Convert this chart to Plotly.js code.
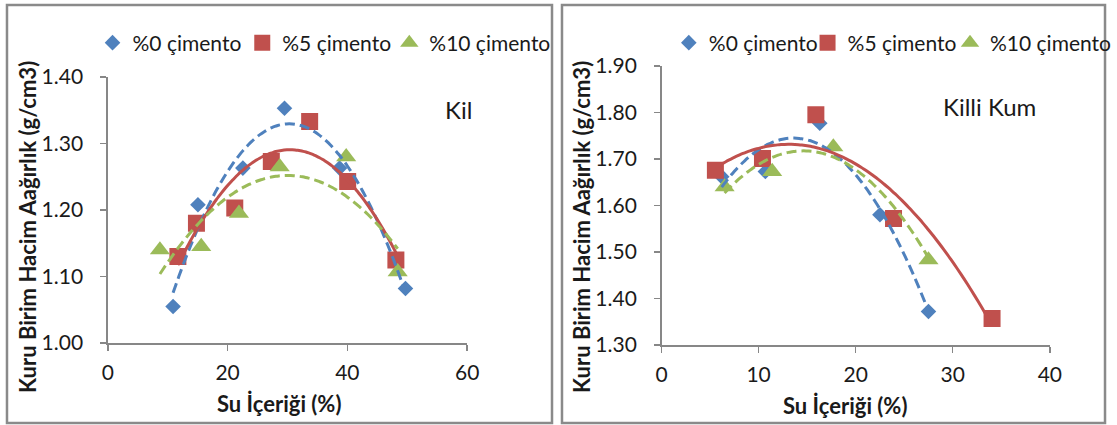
<!DOCTYPE html>
<html>
<head>
<meta charset="utf-8">
<script src="https://cdn.plot.ly/plotly-3.0.1.min.js"></script>
<style>
html,body{margin:0;padding:0;background:#fff;}
#chart{width:1117px;height:425px;}
</style>
</head>
<body>
<div id="chart"></div>
<script>
// ---- Data: Kil (clay) ----
const kilX0  = [10.9, 15.05, 22.55, 29.5, 38.7, 49.7];
const kilY0  = [1.055, 1.208, 1.263, 1.353, 1.263, 1.082];
const kilX5  = [11.7, 14.8, 21.2, 27.3, 33.7, 40.05, 48.1];
const kilY5  = [1.130, 1.180, 1.203, 1.273, 1.333, 1.243, 1.125];
const kilX10 = [8.7, 15.6, 21.9, 28.7, 39.8, 48.4];
const kilY10 = [1.140, 1.145, 1.195, 1.265, 1.280, 1.107];

// ---- Data: Killi Kum (clayey sand) ----
const kkX0  = [6.2, 10.7, 16.3, 22.5, 27.5];
const kkY0  = [1.662, 1.673, 1.777, 1.580, 1.372];
const kkX5  = [5.55, 10.4, 15.9, 23.9, 34.05];
const kkY5  = [1.676, 1.701, 1.795, 1.572, 1.357];
const kkX10 = [6.5, 11.4, 17.7, 27.5];
const kkY10 = [1.640, 1.673, 1.726, 1.483];

const seriesNames = ['%0 çimento', '%5 çimento', '%10 çimento'];
const xTitle = 'Su İçeriği (%)';
const yTitle = 'Kuru Birim Hacim Aağırlık (g/cm3)';
const panelLabels = ['Kil', 'Killi Kum'];

// ---- Styles ----
const BLUE = '#4F81BD', RED = '#C0504D', GREEN = '#9BBB59';
const FONT = 'Lato, "Open Sans", sans-serif';
const TXT = '#1a1a1a';
const AX = '#878787';
const W = 1117, H = 425;

// Least-squares polynomial trendline (as Excel's polynomial trendline, order 2)
function polyfit(xs, ys, order) {
  const n = order + 1;
  const A = [];
  for (let i = 0; i < n; i++) {
    A.push(new Array(n + 1).fill(0));
  }
  for (let k = 0; k < xs.length; k++) {
    for (let i = 0; i < n; i++) {
      for (let j = 0; j < n; j++) A[i][j] += Math.pow(xs[k], i + j);
      A[i][n] += ys[k] * Math.pow(xs[k], i);
    }
  }
  for (let i = 0; i < n; i++) {
    let p = i;
    for (let r = i + 1; r < n; r++) if (Math.abs(A[r][i]) > Math.abs(A[p][i])) p = r;
    [A[i], A[p]] = [A[p], A[i]];
    for (let r = 0; r < n; r++) {
      if (r === i) continue;
      const f = A[r][i] / A[i][i];
      for (let c = i; c <= n; c++) A[r][c] -= f * A[i][c];
    }
  }
  return A.map((row, i) => row[n] / row[i]);
}
function trend(xs, ys, order) {
  const c = polyfit(xs, ys, order);
  const lo = Math.min(...xs), hi = Math.max(...xs);
  const tx = [], ty = [];
  const N = 80;
  for (let i = 0; i <= N; i++) {
    const x = lo + (hi - lo) * i / N;
    let y = 0;
    for (let k = 0; k < c.length; k++) y += c[k] * Math.pow(x, k);
    tx.push(x); ty.push(y);
  }
  return {x: tx, y: ty};
}

const symbols = ['diamond', 'square', 'triangle-up'];
const sizes = [12, 17, 17.5];
const colors = [BLUE, RED, GREEN];
const dashes = ['10px,5px', 'solid', '10px,5px'];

// one legend per entry so each entry can be placed where the reference shows it
function panel(xsList, ysList, xa, ya, legendIds) {
  const out = [];
  for (let s = 0; s < 3; s++) {
    out.push({
      type: 'scatter', mode: 'markers', name: seriesNames[s],
      x: xsList[s], y: ysList[s], xaxis: xa, yaxis: ya, legend: legendIds[s],
      marker: {symbol: symbols[s], size: sizes[s], color: colors[s], line: {width: 0}},
      hoverinfo: 'x+y'
    });
  }
  for (let s = 0; s < 3; s++) {
    const t = trend(xsList[s], ysList[s], 2);
    out.push({
      type: 'scatter', mode: 'lines', showlegend: false,
      x: t.x, y: t.y, xaxis: xa, yaxis: ya,
      line: {color: colors[s], width: 3, dash: dashes[s], shape: 'spline'},
      hoverinfo: 'skip'
    });
  }
  return out;
}

const traces = [].concat(
  panel([kilX0, kilX5, kilX10], [kilY0, kilY5, kilY10], 'x', 'y', ['legend', 'legend2', 'legend3']),
  panel([kkX0, kkX5, kkX10], [kkY0, kkY5, kkY10], 'x2', 'y2', ['legend4', 'legend5', 'legend6'])
);

function axisBase() {
  return {
    showline: true, linecolor: AX, linewidth: 1.5,
    ticks: 'outside', ticklen: 6, tickwidth: 1.5, tickcolor: AX,
    showgrid: false, zeroline: false,
    tickfont: {family: FONT, size: 21, color: TXT},
    fixedrange: true
  };
}
const px = v => v / W, py = v => 1 - v / H;

function legendAt(markerX) {
  return {
    orientation: 'h', x: px(markerX - 18), y: py(43), xanchor: 'left', yanchor: 'middle',
    font: {family: FONT, size: 21, color: TXT}, bgcolor: 'rgba(0,0,0,0)', itemwidth: 30
  };
}

const layout = {
  width: W, height: H,
  margin: {l: 0, r: 0, t: 0, b: 0},
  paper_bgcolor: '#fff', plot_bgcolor: '#fff',
  font: {family: FONT, color: TXT},
  xaxis: Object.assign(axisBase(), {domain: [px(108), px(468)], range: [0, 60], dtick: 20, tick0: 0, anchor: 'y', ticklabelstandoff: 4}),
  yaxis: Object.assign(axisBase(), {domain: [py(343), py(77)], range: [1.0, 1.4], dtick: 0.1, tick0: 1.0, tickformat: '.2f', anchor: 'x', ticklabelstandoff: 13}),
  xaxis2: Object.assign(axisBase(), {domain: [px(662.7), px(1051.7)], range: [0, 40], dtick: 10, tick0: 0, anchor: 'y2', ticklabelstandoff: 4}),
  yaxis2: Object.assign(axisBase(), {domain: [py(345), py(66)], range: [1.3, 1.9], dtick: 0.1, tick0: 1.3, tickformat: '.2f', anchor: 'x2', ticklabelstandoff: 13}),
  showlegend: true,
  legend: legendAt(110.7),
  legend2: legendAt(260.7),
  legend3: legendAt(408),
  legend4: legendAt(688),
  legend5: legendAt(827),
  legend6: legendAt(970),
  shapes: [
    {type: 'rect', xref: 'paper', yref: 'paper', x0: px(7), x1: px(553), y0: py(423), y1: py(5), line: {color: '#8a8a8a', width: 2.5}},
    {type: 'rect', xref: 'paper', yref: 'paper', x0: px(563), x1: px(1107), y0: py(423), y1: py(5), line: {color: '#8a8a8a', width: 2.5}}
  ],
  annotations: [
    {text: panelLabels[0], xref: 'paper', yref: 'paper', x: px(459), y: py(110), xanchor: 'center', yanchor: 'middle', showarrow: false, font: {family: FONT, size: 24, color: TXT}},
    {text: panelLabels[1], xref: 'paper', yref: 'paper', x: px(991), y: py(107), xanchor: 'center', yanchor: 'middle', showarrow: false, font: {family: FONT, size: 24, color: TXT}},
    {text: '<b>' + xTitle + '</b>', xref: 'paper', yref: 'paper', x: px(280), y: py(403), xanchor: 'center', yanchor: 'middle', showarrow: false, font: {family: FONT, size: 22, color: TXT}},
    {text: '<b>' + xTitle + '</b>', xref: 'paper', yref: 'paper', x: px(847), y: py(405), xanchor: 'center', yanchor: 'middle', showarrow: false, font: {family: FONT, size: 22, color: TXT}},
    {text: '<b>' + yTitle + '</b>', xref: 'paper', yref: 'paper', x: px(28), y: py(227), xanchor: 'center', yanchor: 'middle', textangle: -90, showarrow: false, font: {family: FONT, size: 22, color: TXT}},
    {text: '<b>' + yTitle + '</b>', xref: 'paper', yref: 'paper', x: px(583), y: py(227), xanchor: 'center', yanchor: 'middle', textangle: -90, showarrow: false, font: {family: FONT, size: 22, color: TXT}}
  ]
};

Plotly.newPlot('chart', traces, layout, {staticPlot: true, displayModeBar: false});
</script>
</body>
</html>
